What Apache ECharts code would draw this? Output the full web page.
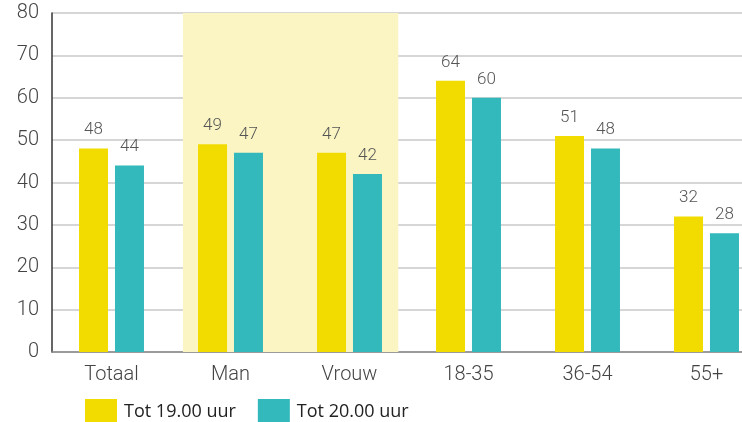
<!DOCTYPE html>
<html><head><meta charset="utf-8">
<script src="https://cdn.jsdelivr.net/npm/echarts@6/dist/echarts.min.js"></script>
<style>html,body{margin:0;padding:0;background:#fff}#c{width:742px;height:422px}</style>
</head><body><div id="c"></div>
<script>
const categories = ['Totaal', 'Man', 'Vrouw', '18-35', '36-54', '55+'];
const seriesNames = ['Tot 19.00 uur', 'Tot 20.00 uur'];
const tot19 = [48, 49, 47, 64, 51, 32];
const tot20 = [44, 47, 42, 60, 48, 28];
const yTicks = [0, 10, 20, 30, 40, 50, 60, 70, 80];
const highlightRange = [1.1, 2.91];

const chart = echarts.init(document.getElementById('c'));
const labelStyle = {show: true, position: 'top', distance: 10, color: '#555', fontSize: 17, fontFamily: 'Roboto', fontWeight: 300};
chart.setOption({
  animation: false,
  grid: {left: 52, top: 13, right: -24, bottom: 70, containLabel: false, outerBoundsMode: 'none'},
  legend: {
    left: 80, top: 394, itemWidth: 32, itemHeight: 26, itemGap: 22,
    icon: 'rect',
    textStyle: {fontFamily: 'Open Sans', fontSize: 18, color: '#222', padding: [8, 0, 0, 2]},
    data: seriesNames
  },
  xAxis: [{
    type: 'category', data: categories,
    axisLine: {show: true, lineStyle: {color: '#888', width: 1.5}},
    axisTick: {show: false},
    axisLabel: {color: '#444', fontSize: 20, fontFamily: 'Roboto', fontWeight: 300, margin: 13}
  }, {
    type: 'value', min: 0, max: 6, show: false
  }],
  yAxis: {
    type: 'value', min: 0, max: 80, interval: 10,
    axisLine: {show: true, lineStyle: {color: '#333', width: 1.5}},
    axisTick: {show: false},
    splitLine: {lineStyle: {color: '#c8c8c8', width: 1.5}},
    axisLabel: {color: '#444', fontSize: 20, fontFamily: 'Roboto', fontWeight: 300, margin: 13,
      formatter: v => yTicks.includes(v) ? String(v) : ''}
  },
  series: [{
    type: 'line', xAxisIndex: 1, data: [], silent: true,
    markArea: {silent: true, itemStyle: {color: '#FAF5C3'},
      data: [[{xAxis: highlightRange[0], yAxis: 0}, {xAxis: highlightRange[1], yAxis: 80}]]}
  }, {
    name: seriesNames[0], type: 'bar', data: tot19, barWidth: 29, barGap: '24%',
    itemStyle: {color: '#F2DC00'}, label: labelStyle, z: 3
  }, {
    name: seriesNames[1], type: 'bar', data: tot20, barWidth: 29,
    itemStyle: {color: '#33B8BC'}, label: labelStyle, z: 3
  }]
});
</script></body></html>
